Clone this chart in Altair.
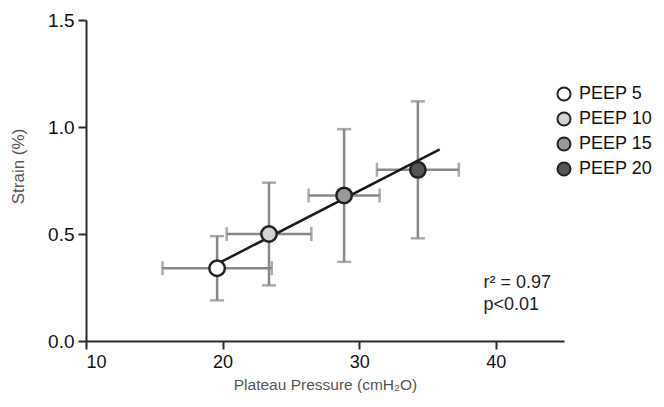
import altair as alt
import pandas as pd

groups = ["PEEP 5", "PEEP 10", "PEEP 15", "PEEP 20"]
pressure = [19.6, 23.4, 28.9, 34.3]
pressure_sd = [4.0, 3.1, 2.6, 3.0]
strain = [0.34, 0.50, 0.68, 0.80]
strain_sd = [0.15, 0.24, 0.31, 0.32]
fills = ["#ffffff", "#d4d4d4", "#9a9a9a", "#555555"]

fit_x = [19.6, 35.9]
fit_y = [0.36, 0.895]

notes = ["r\u00b2 = 0.97", "p<0.01"]
note_x = [39.1, 39.1]
note_y = [0.272, 0.168]

df = pd.DataFrame({
    "group": groups,
    "x": pressure,
    "y": strain,
    "xlo": [a - b for a, b in zip(pressure, pressure_sd)],
    "xhi": [a + b for a, b in zip(pressure, pressure_sd)],
    "ylo": [a - b for a, b in zip(strain, strain_sd)],
    "yhi": [a + b for a, b in zip(strain, strain_sd)],
})
fit = pd.DataFrame({"x": fit_x, "y": fit_y})
ann = pd.DataFrame({"t": notes, "x": note_x, "y": note_y})

FONT = "Liberation Sans"
xs = alt.Scale(domain=[10, 45], nice=False, zero=False)
ys = alt.Scale(domain=[0, 1.5], nice=False)

xax = alt.Axis(values=[10, 20, 30, 40], title="Plateau Pressure (cmH\u2082O)", grid=False)
yax = alt.Axis(values=[0, 0.5, 1.0, 1.5], format=".1f", title="Strain (%)", grid=False,
               labelFontSize=19, titleFontSize=17, titleY=146)

base = alt.Chart(df)
ERR = "#888888"

vbar = base.mark_rule(color=ERR, strokeWidth=2.5).encode(
    x=alt.X("x:Q", scale=xs, axis=xax), y=alt.Y("ylo:Q", scale=ys, axis=yax), y2="yhi:Q")
hbar = base.mark_rule(color=ERR, strokeWidth=2.5).encode(
    x=alt.X("xlo:Q", scale=xs), x2="xhi:Q", y=alt.Y("y:Q", scale=ys))
cap_lo = base.mark_tick(color=ERR, size=14, thickness=2.5, orient="horizontal").encode(
    x=alt.X("x:Q", scale=xs), y=alt.Y("ylo:Q", scale=ys))
cap_hi = base.mark_tick(color=ERR, size=14, thickness=2.5, orient="horizontal").encode(
    x=alt.X("x:Q", scale=xs), y=alt.Y("yhi:Q", scale=ys))
cap_l = base.mark_tick(color=ERR, size=14, thickness=2.5, orient="vertical").encode(
    x=alt.X("xlo:Q", scale=xs), y=alt.Y("y:Q", scale=ys))
cap_r = base.mark_tick(color=ERR, size=14, thickness=2.5, orient="vertical").encode(
    x=alt.X("xhi:Q", scale=xs), y=alt.Y("y:Q", scale=ys))

line = alt.Chart(fit).mark_line(color="#1a1a1a", strokeWidth=2.5).encode(
    x=alt.X("x:Q", scale=xs), y=alt.Y("y:Q", scale=ys))

pts = base.mark_point(shape="circle", filled=True, size=240, stroke="#222222",
                      strokeWidth=2.5, opacity=1).encode(
    x=alt.X("x:Q", scale=xs), y=alt.Y("y:Q", scale=ys),
    fill=alt.Fill("group:N", scale=alt.Scale(domain=groups, range=fills),
                  legend=alt.Legend(title=None, orient="none", legendX=469, legendY=65,
                                    symbolType="circle", symbolSize=170,
                                    symbolStrokeColor="#222222", symbolStrokeWidth=2,
                                    labelFontSize=18, labelFont=FONT, labelColor="#111111",
                                    rowPadding=3, labelOffset=6)))

text = alt.Chart(ann).mark_text(align="left", baseline="middle", fontSize=18,
                                font=FONT, color="#222222").encode(
    x=alt.X("x:Q", scale=xs), y=alt.Y("y:Q", scale=ys), text="t:N")

chart = alt.layer(vbar, hbar, cap_lo, cap_hi, cap_l, cap_r, line, pts, text).properties(
    width=478, height=321,
    autosize=alt.AutoSizeParams(type="none"),
    padding={"left": 78, "top": 12, "right": 90, "bottom": 58},
).configure_view(stroke=None).configure_axis(
    domainColor="#2a2a2a", domainWidth=2, tickColor="#2a2a2a", tickWidth=2, tickSize=8,
    labelFont=FONT, labelFontSize=18, labelColor="#111111", labelPadding=4,
    titleFont=FONT, titleFontSize=15.5, titleColor="#555555", titleFontWeight="normal",
).configure_axisX(titlePadding=6).configure_axisY(titlePadding=20)

chart.save("out.html", embed_options={"renderer": "svg", "actions": False})
